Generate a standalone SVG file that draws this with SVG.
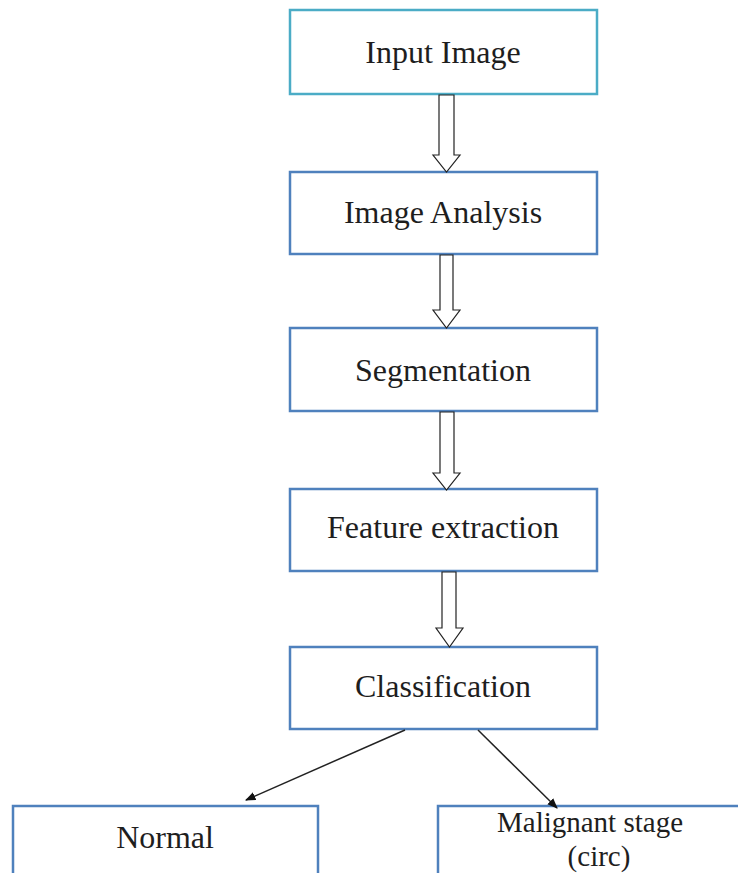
<svg xmlns="http://www.w3.org/2000/svg" width="738" height="873" viewBox="0 0 738 873">
<style>
.box{fill:#ffffff;stroke:#4f81bd;stroke-width:2.5}
.box.teal{stroke:#4bacc6}
.lbl{font-family:"Liberation Serif","Times New Roman",serif;font-size:32px;fill:#1e1e1e;text-anchor:middle}
.sm{font-size:29px}
.blk{fill:#ffffff;stroke:#222;stroke-width:1.2;stroke-linejoin:miter}
.ln{stroke:#222;stroke-width:1.5;fill:none}
</style>
<defs>
<marker id="ah" viewBox="0 0 10 10" refX="9" refY="5" markerWidth="7" markerHeight="7" markerUnits="strokeWidth" orient="auto">
<path d="M0,1 L10,5 L0,9 Z" fill="#111"/>
</marker>
</defs>
<rect width="738" height="873" fill="#ffffff"/>
<g id="input-image">
<rect class="box teal" x="290" y="10" width="307" height="84"/>
<text class="lbl" x="443" y="63">Input Image</text>
</g>
<g id="image-analysis">
<rect class="box" x="290" y="172" width="307" height="82"/>
<text class="lbl" x="443" y="223">Image Analysis</text>
</g>
<g id="segmentation">
<rect class="box" x="290" y="328" width="307" height="83"/>
<text class="lbl" x="443" y="381">Segmentation</text>
</g>
<g id="feature-extraction">
<rect class="box" x="290" y="489" width="307" height="82"/>
<text class="lbl" x="443" y="538">Feature extraction</text>
</g>
<g id="classification">
<rect class="box" x="290" y="647" width="307" height="82"/>
<text class="lbl" x="443" y="697">Classification</text>
</g>
<g id="normal">
<rect class="box" x="13" y="806" width="305" height="80"/>
<text class="lbl" x="165" y="848">Normal</text>
</g>
<g id="malignant">
<rect class="box" x="438" y="806" width="320" height="80"/>
<text class="lbl sm" x="590" y="832">Malignant stage</text>
<text class="lbl sm" x="599" y="866">(circ)</text>
</g>
<g id="connectors">
<path class="blk" d="M439,95 L454,95 L454,155 L460,155 L446.5,172 L433,155 L439,155 Z"/>
<path class="blk" d="M440,255 L453,255 L453,310 L460,310 L446.5,328 L433,310 L440,310 Z"/>
<path class="blk" d="M440,412 L454,412 L454,473 L460,473 L446.5,490 L433,473 L440,473 Z"/>
<path class="blk" d="M442,572 L456,572 L456,628 L463,628 L449.5,647 L436,628 L442,628 Z"/>
<line class="ln" x1="405" y1="730" x2="246" y2="800" marker-end="url(#ah)"/>
<line class="ln" x1="478" y1="730" x2="557" y2="808" marker-end="url(#ah)"/>
</g>
</svg>
